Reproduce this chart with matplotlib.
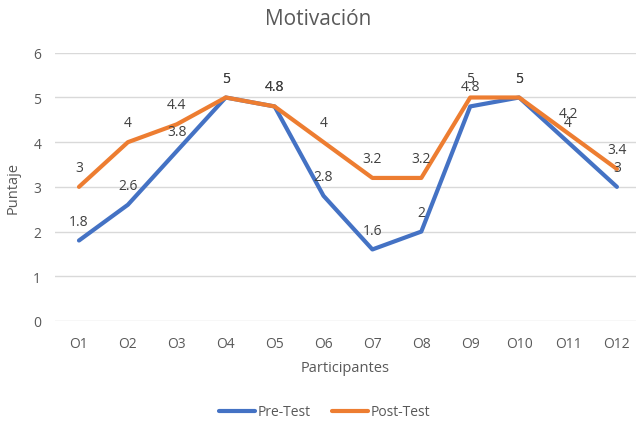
import matplotlib
matplotlib.use("Agg")
import matplotlib.pyplot as plt

plt.rcParams['font.family'] = ['Open Sans', 'DejaVu Sans']

categories = ["O1", "O2", "O3", "O4", "O5", "O6", "O7", "O8", "O9", "O10", "O11", "O12"]
pre_test = [1.8, 2.6, 3.8, 5, 4.8, 2.8, 1.6, 2, 4.8, 5, 4, 3]
post_test = [3, 4, 4.4, 5, 4.8, 4, 3.2, 3.2, 5, 5, 4.2, 3.4]
yticks = [0, 1, 2, 3, 4, 5, 6]

fig = plt.figure(figsize=(6.36, 4.27), dpi=100)
ax = fig.add_axes([0.0865, 0.246, 0.9135, 0.628])

x = list(range(len(categories)))
blue = "#4472C4"
orange = "#ED7D31"
ax.plot(x, pre_test, color=blue, lw=3, solid_capstyle='round', solid_joinstyle='round', label="Pre-Test", zorder=3)
ax.plot(x, post_test, color=orange, lw=3, solid_capstyle='round', solid_joinstyle='round', label="Post-Test", zorder=4)

def fmt(v):
    return ("%g" % v)

for xi, v in zip(x, pre_test):
    ax.annotate(fmt(v), (xi, v), xytext=(0, 14), textcoords='offset points',
                ha='center', va='center', fontsize=10, color='#404040', zorder=5)
for xi, v in zip(x, post_test):
    ax.annotate(fmt(v), (xi, v), xytext=(0, 14), textcoords='offset points',
                ha='center', va='center', fontsize=10, color='#404040', zorder=5)

ax.set_xlim(-0.49, 11.39)
ax.set_ylim(0, 6)
ax.set_yticks(yticks)
ax.set_xticks(x)
ax.set_xticklabels(categories)
ax.grid(axis='y', color='#D9D9D9', lw=1)
ax.set_axisbelow(True)
for s in ax.spines.values():
    s.set_visible(False)
ax.tick_params(axis='both', length=0, labelsize=10, labelcolor='#595959')
ax.tick_params(axis='x', pad=11)
ax.tick_params(axis='y', pad=10)

ax.set_xlabel("Participantes", fontsize=10.5, color='#595959', labelpad=6)
ax.set_ylabel("Puntaje", fontsize=10.5, color='#595959', labelpad=9)
fig.text(0.5, 0.955, "Motivación", ha='center', va='center', fontsize=15, color='#595959')

leg = fig.legend(loc='center', bbox_to_anchor=(0.51, 0.033), ncol=2, frameon=False,
                 fontsize=10, handlelength=2.6, columnspacing=1.5, handletextpad=0.2)
for t in leg.get_texts():
    t.set_color('#595959')

fig.savefig("out.png", dpi=100)
